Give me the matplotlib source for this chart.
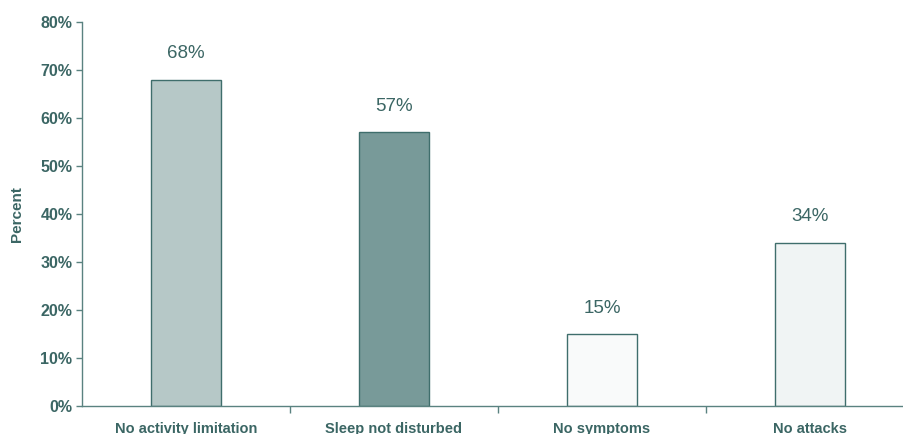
import matplotlib
matplotlib.use("Agg")
import matplotlib.pyplot as plt
from matplotlib.ticker import FixedLocator, PercentFormatter

categories = ["No activity limitation", "Sleep not disturbed", "No symptoms", "No attacks"]
values = [68, 57, 15, 34]
bar_colors = ["#b6c8c7", "#789a99", "#f9fafa", "#f0f4f4"]

text_color = "#3b6664"
edge_color = "#3f6e6c"
axis_color = "#5a8280"

plt.rcParams["font.family"] = ["Liberation Sans", "DejaVu Sans"]

fig = plt.figure(figsize=(9.04, 4.34), dpi=100)
ax = fig.add_axes([82 / 904, (434 - 406) / 434, (904 - 82) / 904, 384 / 434])

x = list(range(len(categories)))
bars = ax.bar(x, values, width=0.337, color=bar_colors, edgecolor=edge_color, linewidth=1.0, zorder=2)

for xi, v in zip(x, values):
    ax.annotate(f"{v}%", xy=(xi, v), xytext=(0, 12.5), textcoords="offset points",
                ha="center", va="bottom", fontsize=13.5, color=text_color)

ax.set_xlim(-0.5, (904 - 82) / 208 - 0.5)
ax.set_ylim(0, 80)
ax.set_yticks(range(0, 81, 10))
ax.yaxis.set_major_formatter(PercentFormatter(decimals=0))

ax.set_xticks(x)
ax.set_xticklabels(categories)
ax.xaxis.set_minor_locator(FixedLocator([0.5, 1.5, 2.5]))
ax.tick_params(axis="x", which="major", length=0, pad=11.5, labelsize=10.5, labelcolor=text_color)
ax.tick_params(axis="x", which="minor", length=5, color=axis_color, width=1)
ax.tick_params(axis="y", length=4, color=axis_color, width=1, labelsize=11.5, labelcolor=text_color, pad=3)
for lbl in ax.get_yticklabels() + ax.get_xticklabels():
    lbl.set_fontweight("bold")

for side in ["top", "right"]:
    ax.spines[side].set_visible(False)
for side in ["left", "bottom"]:
    ax.spines[side].set_color(axis_color)
    ax.spines[side].set_linewidth(1)

ax.set_ylabel("Percent", fontsize=11, color=text_color, fontweight="bold", labelpad=12)

fig.savefig("out.png", dpi=100)
